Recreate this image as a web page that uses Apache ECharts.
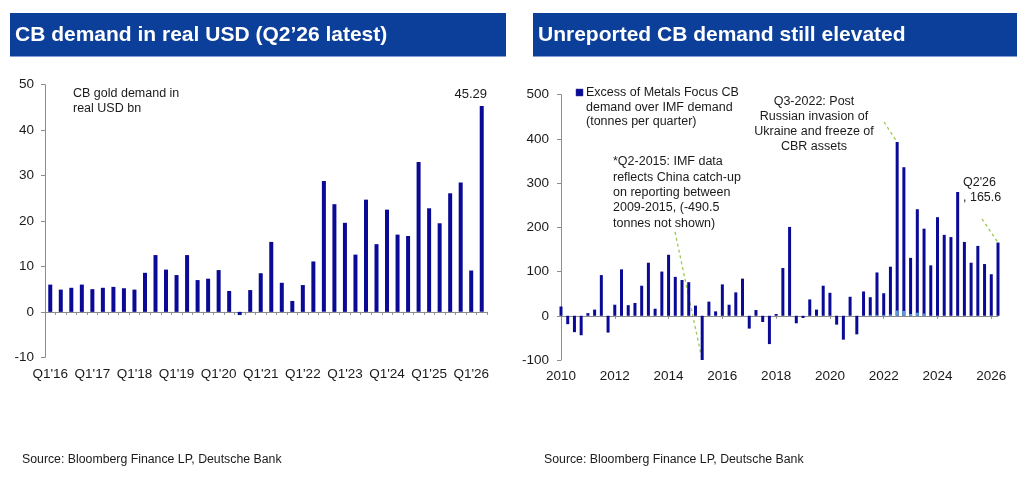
<!DOCTYPE html>
<html>
<head>
<meta charset="utf-8">
<script src="https://cdn.jsdelivr.net/npm/echarts@6/dist/echarts.min.js"></script>
<style>
  html, body { margin: 0; padding: 0; background: #ffffff; }
  #chart { width: 1024px; height: 486px; }
</style>
</head>
<body>
<div id="chart"></div>
<script>
// ---------- Data ----------
const leftYears = ["16","17","18","19","20","21","22","23","24","25","26"];
const quarterNames = ["Q1","Q2","Q3","Q4"];
const leftValues = [
  6.0, 4.9, 5.3, 6.0,
  5.0, 5.3, 5.5, 5.2,
  4.9, 8.6, 12.5, 9.3,
  8.1, 12.5, 7.0, 7.3,
  9.2, 4.6, -0.7, 4.8,
  8.5, 15.4, 6.4, 2.4,
  5.9, 11.1, 28.8, 23.7,
  19.6, 12.6, 24.7, 14.9,
  22.5, 17.0, 16.7, 33.0,
  22.8, 19.5, 26.1, 28.5,
  9.1, 45.29
];
const leftTicks = [-10, 0, 10, 20, 30, 40, 50];

const rightYears = ["2010","2011","2012","2013","2014","2015","2016","2017","2018","2019","2020","2021","2022","2023","2024","2025","2026"];
const rightExcess = [
  21, -19, -37, -44,
  6, 14, 92, -38,
  25, 105, 24, 29,
  68, 120, 16, 100,
  138, 88, 81, 76,
  23, -490.5, 32, 10,
  71, 25, 53, 84,
  -29, 13, -14, -64,
  4, 108, 201, -17,
  -5, 37, 14, 68,
  52, -20, -54, 43,
  -42, 55, 42, 98,
  51, 111, 393, 336,
  131, 241, 197, 114,
  223, 183, 178, 280,
  167, 120, 158, 117,
  94, 165.6
];
const rightSecondary = [
  0, 0, 0, 0,   0, 0, 0, 0,   0, 0, 0, 0,   0, 0, 0, 0,
  0, 0, 0, 0,   0, 0, 0, 0,   0, 0, 0, 0,   0, 0, 0, 0,
  0, 0, 0, 0,   0, 0, 0, 0,   0, 0, 0, 0,
  0, 0, 2, 2,
  2, 3, 12, 11,
  4, 7, 5, 0,
  0, 0, 0, 0,   0, 0, 0, 0,   0, 0
];
const rightTicks = [-100, 0, 100, 200, 300, 400, 500];

const leftTitle = "CB demand in real USD (Q2\u201926 latest)";
const rightTitle = "Unreported CB demand still elevated";
const sourceText = "Source: Bloomberg Finance LP, Deutsche Bank";
const leftNote = "CB gold demand in\nreal USD bn";
const legendName = "Excess of Metals Focus CB\ndemand over IMF demand\n(tonnes per quarter)";
const noteQ2_2015 = "*Q2-2015: IMF data\nreflects China catch-up\non reporting between\n2009-2015, (-490.5\ntonnes not shown)";
const noteQ3_2022 = "Q3-2022: Post\nRussian invasion of\nUkraine and freeze of\nCBR assets";
const noteQ2_26 = "Q2'26\n, 165.6";

// ---------- Build categories ----------
const leftCats = [];
leftYears.forEach(y => quarterNames.forEach(q => leftCats.push(q + "'" + y)));
leftCats.length = leftValues.length;
const rightCats = [];
rightYears.forEach(y => quarterNames.forEach(q => rightCats.push(q + " " + y)));
rightCats.length = rightExcess.length;

// ---------- Styles ----------
const FONT = '"Liberation Sans", Arial, sans-serif';
const NAVY = '#0a0a96';
const LIGHT = '#5b9bd5';
const AXIS = '#8c8c8c';
const TXT = '#1a1a1a';
const GREEN = '#9bc94f';
const HEADER = '#0c3f9a';

const chart = echarts.init(document.getElementById('chart'), null, { renderer: 'canvas' });

const lastIdx = leftValues.length - 1;
const leftData = leftValues.map((v, i) => i === lastIdx ? {
  value: v,
  label: { show: true, position: 'top', distance: 4, offset: [-11, -1], color: TXT, fontSize: 13, fontFamily: FONT, formatter: p => String(p.value) }
} : v);

const axisLabelStyle = { color: TXT, fontSize: 13.5, fontFamily: FONT };

const option = {
  animation: false,
  backgroundColor: '#ffffff',
  textStyle: { fontFamily: FONT },
  grid: [
    { left: 45, top: 84.7, width: 442, height: 272.6, containLabel: false },
    { left: 561, top: 94.7, width: 437, height: 265.3, containLabel: false }
  ],
  xAxis: [
    {
      gridIndex: 0, type: 'category', data: leftCats, position: 'bottom', boundaryGap: true,
      axisLine: { show: true, onZero: true, lineStyle: { color: AXIS, width: 1 } },
      axisTick: { show: true, interval: 0, length: 3, lineStyle: { color: AXIS } },
      axisLabel: { show: false }, splitLine: { show: false }
    },
    {
      gridIndex: 0, type: 'category', data: leftCats, position: 'bottom', boundaryGap: true,
      axisLine: { show: false, onZero: false }, axisTick: { show: false },
      axisLabel: Object.assign({ interval: 3, margin: 10 }, axisLabelStyle), splitLine: { show: false }
    },
    {
      gridIndex: 1, type: 'category', data: rightCats, position: 'bottom', boundaryGap: false,
      axisLine: { show: true, onZero: true, lineStyle: { color: AXIS, width: 1 } },
      axisTick: { show: true, interval: 7, length: 3, lineStyle: { color: AXIS } },
      axisLabel: { show: false }, splitLine: { show: false }
    },
    {
      gridIndex: 1, type: 'category', data: rightCats, position: 'bottom', boundaryGap: false,
      axisLine: { show: false, onZero: false }, axisTick: { show: false },
      axisLabel: Object.assign({ interval: 7, margin: 9, formatter: v => v.slice(3) }, axisLabelStyle),
      splitLine: { show: false }
    }
  ],
  yAxis: [
    {
      gridIndex: 0, type: 'value', min: leftTicks[0], max: leftTicks[leftTicks.length - 1], interval: 10,
      axisLine: { show: true, lineStyle: { color: AXIS } },
      axisTick: { show: true, length: 4, lineStyle: { color: AXIS } },
      axisLabel: Object.assign({ margin: 11 }, axisLabelStyle),
      splitLine: { show: false }
    },
    {
      gridIndex: 1, type: 'value', min: rightTicks[0], max: rightTicks[rightTicks.length - 1], interval: 100,
      axisLine: { show: true, lineStyle: { color: AXIS } },
      axisTick: { show: true, length: 4, lineStyle: { color: AXIS } },
      axisLabel: Object.assign({ margin: 12 }, axisLabelStyle),
      splitLine: { show: false }
    }
  ],
  series: [
    {
      type: 'bar', name: 'CB gold demand in real USD bn', xAxisIndex: 0, yAxisIndex: 0,
      data: leftData, barWidth: 4, itemStyle: { color: NAVY }
    },
    {
      type: 'bar', name: legendName, xAxisIndex: 2, yAxisIndex: 1,
      data: rightExcess, barWidth: 3, itemStyle: { color: NAVY }, clip: true
    },
    {
      type: 'bar', name: 'secondary', xAxisIndex: 2, yAxisIndex: 1,
      data: rightSecondary, barWidth: 3, barGap: '-100%', itemStyle: { color: LIGHT }, clip: true
    }
  ]
};
chart.setOption(option);

// ---------- Annotation graphics ----------
const pQ2_2015 = chart.convertToPixel({ xAxisIndex: 2, yAxisIndex: 1 }, [21, rightTicks[0]]);
const pQ3_2022 = chart.convertToPixel({ xAxisIndex: 2, yAxisIndex: 1 }, [50, rightExcess[50]]);
const pQ2_26 = chart.convertToPixel({ xAxisIndex: 2, yAxisIndex: 1 }, [rightExcess.length - 1, rightExcess[rightExcess.length - 1]]);

function txt(text, x, y, opts) {
  return {
    type: 'text', x: x, y: y, silent: true,
    style: Object.assign({
      text: text, fill: TXT, fontSize: 12.5, fontFamily: FONT,
      align: 'left', verticalAlign: 'top', lineHeight: 15
    }, opts || {})
  };
}
function dash(x1, y1, x2, y2) {
  return {
    type: 'line', silent: true,
    shape: { x1: x1, y1: y1, x2: x2, y2: y2 },
    style: { stroke: GREEN, lineWidth: 1.3, lineDash: [3, 3] }
  };
}

chart.setOption({
  graphic: [
    { type: 'rect', shape: { x: 10, y: 13, width: 496, height: 43 }, style: { fill: HEADER }, silent: true },
    { type: 'rect', shape: { x: 533, y: 13, width: 484, height: 43 }, style: { fill: HEADER }, silent: true },
    { type: 'line', shape: { x1: 10, y1: 56.5, x2: 506, y2: 56.5 }, style: { stroke: '#7f9fd6', lineWidth: 1 }, silent: true },
    { type: 'line', shape: { x1: 533, y1: 56.5, x2: 1017, y2: 56.5 }, style: { stroke: '#7f9fd6', lineWidth: 1 }, silent: true },
    txt(leftTitle, 15, 35.5, { fill: '#ffffff', fontSize: 21, fontWeight: 'bold', verticalAlign: 'middle', lineHeight: 24 }),
    txt(rightTitle, 538, 35.5, { fill: '#ffffff', fontSize: 21, fontWeight: 'bold', verticalAlign: 'middle', lineHeight: 24 }),
    txt(sourceText, 22, 460, { fontSize: 12.3, verticalAlign: 'middle' }),
    txt(sourceText, 544, 460, { fontSize: 12.3, verticalAlign: 'middle' }),
    txt(leftNote, 73, 86.5, { lineHeight: 15 }),
    // legend
    { type: 'rect', shape: { x: 576, y: 89, width: 7, height: 7 }, style: { fill: NAVY, stroke: '#3a3a9a', lineWidth: 0.5 }, silent: true },
    txt(legendName, 586, 85.5, { lineHeight: 14.5 }),
    // annotations
    txt(noteQ2_2015, 613, 154, { lineHeight: 15.4 }),
    dash(675, 232, pQ2_2015[0], pQ2_2015[1]),
    txt(noteQ3_2022, 814, 94, { align: 'center', lineHeight: 15 }),
    dash(884, 122, pQ3_2022[0], pQ3_2022[1]),
    txt(noteQ2_26, 963, 175.5, { lineHeight: 15 }),
    dash(982, 219, pQ2_26[0], pQ2_26[1])
  ]
});
</script>
</body>
</html>
